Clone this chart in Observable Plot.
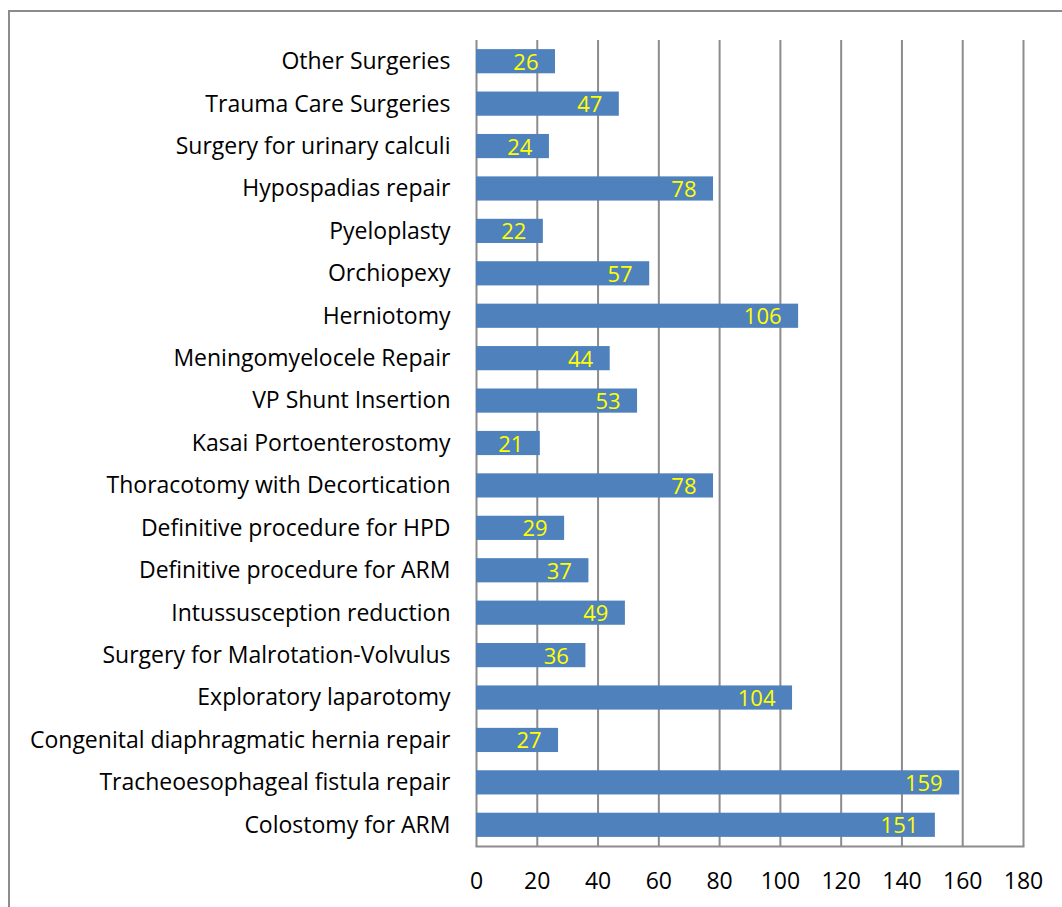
<!DOCTYPE html>
<html><head><meta charset="utf-8">
<script src="https://cdn.jsdelivr.net/npm/d3@7"></script>
<script src="https://cdn.jsdelivr.net/npm/@observablehq/plot@0.6"></script>
<style>
html,body{margin:0;padding:0;background:#fff;overflow:hidden;width:1062px;height:907px;}
#frame{position:absolute;left:8px;top:10px;width:1100px;height:1000px;border:2px solid #8c8c8c;box-sizing:border-box;}
#chart{position:absolute;left:0;top:0;}
</style></head>
<body>
<div id="frame"></div>
<div id="chart"></div>
<script>
const categories = [
  "Other Surgeries","Trauma Care Surgeries","Surgery for urinary calculi","Hypospadias repair",
  "Pyeloplasty","Orchiopexy","Herniotomy","Meningomyelocele Repair","VP Shunt Insertion",
  "Kasai Portoenterostomy","Thoracotomy with Decortication","Definitive procedure for HPD",
  "Definitive procedure for ARM","Intussusception reduction","Surgery for Malrotation-Volvulus",
  "Exploratory laparotomy","Congenital diaphragmatic hernia repair","Tracheoesophageal fistula repair",
  "Colostomy for ARM"
];
const values = [26,47,24,78,22,57,106,44,53,21,78,29,37,49,36,104,27,159,151];
const xTicks = [0,20,40,60,80,100,120,140,160,180];

const data = categories.map((c,i)=>({name:c, value:values[i]}));
const font = "'Open Sans', sans-serif";

const plot = Plot.plot({
  width: 1062,
  height: 907,
  marginLeft: 476,
  marginRight: 39,
  marginTop: 40,
  marginBottom: 61,
  style: {fontFamily: font, fontSize: "23px", color: "#000", background: "transparent", overflow: "visible"},
  x: {domain: [0,180], ticks: xTicks, label: null},
  y: {domain: categories, paddingInner: 0.43, paddingOuter: 0.215, round: false, label: null},
  marks: [
    Plot.ruleX(xTicks, {stroke: "#8c8c8c", strokeWidth: 2}),
    Plot.frame({anchor: "bottom", stroke: "#8c8c8c", strokeWidth: 2}),
    Plot.barX(data, {x: "value", y: "name", fill: "#4F81BD"}),
    Plot.text(data, {x: "value", y: "name", text: d => String(d.value), textAnchor: "end", dx: -17, dy: 1, fill: "#FFFF00", fontSize: 22}),
    Plot.axisX({ticks: xTicks, tickSize: 0, tickPadding: 26, fontSize: 23, tickFormat: d => String(d)}),
    Plot.axisY({tickSize: 0, tickPadding: 26, fontSize: 23})
  ]
});
document.getElementById("chart").appendChild(plot);
</script>
</body></html>
